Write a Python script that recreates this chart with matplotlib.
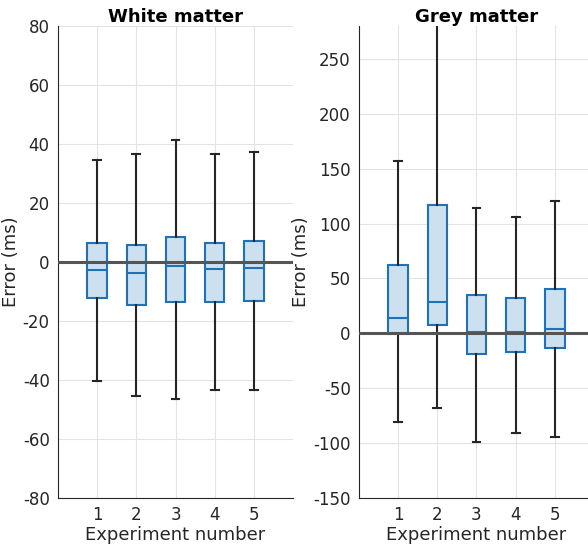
import numpy as np
import matplotlib.pyplot as plt

plt.rcParams['axes.unicode_minus'] = False

experiments = [1, 2, 3, 4, 5]

# white matter boxes (ms)
wm_whislo = [-40.3, -45.5, -46.4, -43.3, -43.3]
wm_q1 = [-12.3, -14.5, -13.5, -13.5, -13.2]
wm_med = [-2.6, -3.8, -1.4, -2.5, -1.9]
wm_q3 = [6.5, 5.9, 8.4, 6.6, 7.2]
wm_whishi = [34.5, 36.7, 41.4, 36.5, 37.4]

# grey matter boxes (ms)
gm_whislo = [-80.7, -67.8, -99.0, -90.8, -94.8]
gm_q1 = [-0.3, 7.4, -18.7, -16.9, -13.8]
gm_med = [14.4, 28.5, 1.2, 0.9, 3.7]
gm_q3 = [62.5, 116.5, 34.7, 32.5, 40.2]
gm_whishi = [157.0, 310.0, 114.0, 106.4, 120.4]

BLUE = '#1f72b8'
FILL = '#cce0ef'
DARK = '#262626'

def make_stats(lo, q1, med, q3, hi):
    out = []
    for a, b, c, d, e in zip(lo, q1, med, q3, hi):
        out.append({'whislo': a, 'q1': b, 'med': c, 'q3': d, 'whishi': e, 'fliers': []})
    return out

def draw(ax, stats, title, ylim, yticks):
    ax.bxp(stats, positions=experiments, widths=0.5, patch_artist=True,
           showfliers=False,
           boxprops=dict(facecolor=FILL, edgecolor=BLUE, linewidth=1.5),
           medianprops=dict(color=BLUE, linewidth=1.5),
           whiskerprops=dict(color=DARK, linewidth=1.5),
           capprops=dict(color=DARK, linewidth=1.5),
           capwidths=0.2, zorder=2)
    ax.axhline(0, color='#555555', linewidth=2.2, zorder=3)
    ax.set_xlim(0, 6)
    ax.set_ylim(*ylim)
    ax.set_yticks(yticks)
    ax.set_xticks(experiments)
    ax.set_xticklabels([str(e) for e in experiments])
    ax.grid(True, color='#e3e3e3', linewidth=0.8)
    ax.set_axisbelow(True)
    for s in ['top', 'right']:
        ax.spines[s].set_visible(False)
    for s in ['left', 'bottom']:
        ax.spines[s].set_color(DARK)
        ax.spines[s].set_linewidth(0.8)
    ax.tick_params(length=0, labelsize=12, colors=DARK, pad=6)
    ax.set_xlabel('Experiment number', fontsize=13, color=DARK, labelpad=1)
    ax.set_ylabel('Error (ms)', fontsize=13, color=DARK, labelpad=2)
    ax.set_title(title, fontsize=13, fontweight='bold', pad=3)

fig = plt.figure(figsize=(5.88, 5.45), dpi=100)
ax1 = fig.add_axes([58/588, 47/545, 235/588, 472/545])
ax2 = fig.add_axes([359/588, 47/545, 235/588, 472/545])

draw(ax1, make_stats(wm_whislo, wm_q1, wm_med, wm_q3, wm_whishi), 'White matter',
     (-80, 80), np.arange(-80, 81, 20))
draw(ax2, make_stats(gm_whislo, gm_q1, gm_med, gm_q3, gm_whishi), 'Grey matter',
     (-150, 280), np.arange(-150, 251, 50))

fig.savefig('out.png', dpi=100)
